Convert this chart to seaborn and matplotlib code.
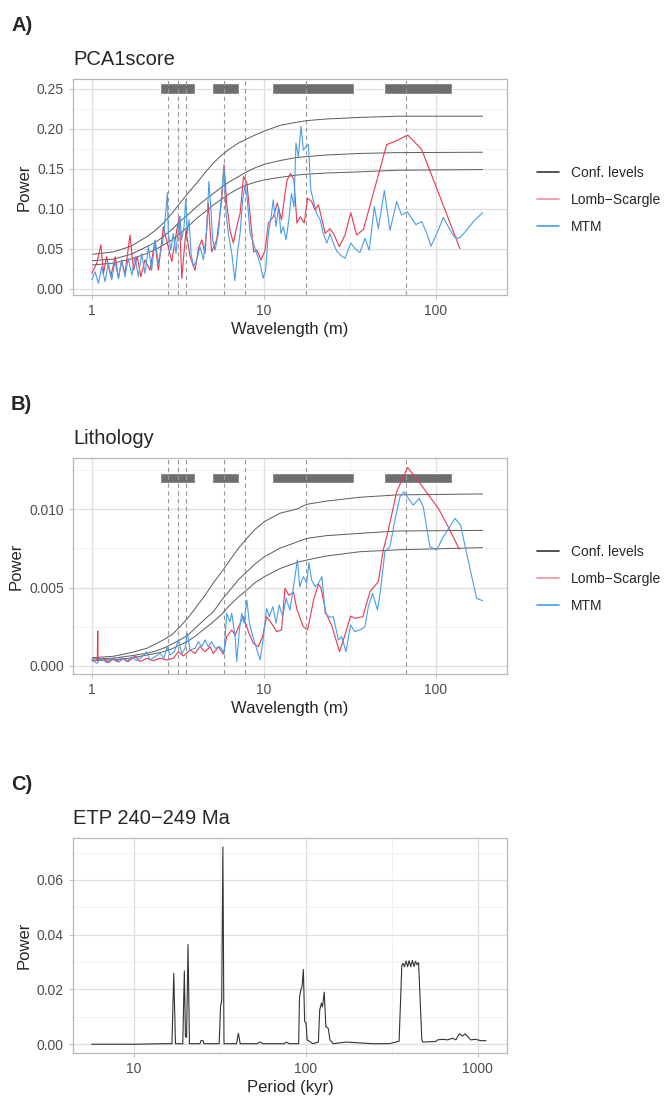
import numpy as np
import pandas as pd
import seaborn as sns
import matplotlib.pyplot as plt
from matplotlib.lines import Line2D
from matplotlib.ticker import NullFormatter

sns.set_theme(style="whitegrid")
plt.rcParams['font.family'] = ['Liberation Sans', 'DejaVu Sans']

# ---- panel A: PCA1score ----
mtm_a_x = [1.0, 1.046, 1.093, 1.143, 1.195, 1.25, 1.307, 1.366, 1.43, 1.494, 1.56, 1.63, 1.71, 1.786,
           1.867, 1.952, 2.04, 2.136, 2.23, 2.335, 2.44, 2.55, 2.63, 2.75, 2.79, 2.88, 2.98, 3.09, 3.19,
           3.26, 3.33, 3.44, 3.52, 3.60, 3.68, 3.78, 3.90, 4.08, 4.26, 4.46, 4.66, 4.8, 4.92, 5.05, 5.21,
           5.45, 5.70, 5.87, 6.04, 6.23, 6.52, 6.8, 7.03, 7.29, 7.54, 7.8, 8.03, 8.33, 8.72, 9.1, 9.5,
           9.94, 10.26, 10.64, 10.98, 11.37, 11.8, 12.2, 12.6, 13.0, 13.5, 14.0, 14.5, 15.0, 15.4, 15.9,
           16.5, 17.0, 17.6, 18.2, 18.8, 19.4, 20.3, 21.3, 22.2, 23.3, 24.3, 25.4, 26.6, 27.9, 29.7, 32.1,
           34.0, 36.3, 38.8, 41.1, 44.0, 46.4, 50.3, 54.3, 59.3, 63.4, 68.4, 72.5, 76.8, 82.9, 88.5, 94.0,
           102, 110.9, 120, 128, 137.3, 150, 166, 187.6]
mtm_a_y = [0.011, 0.021, 0.0067, 0.0275, 0.0088, 0.032, 0.011, 0.034, 0.013, 0.036, 0.015, 0.038, 0.017,
           0.040, 0.015, 0.044, 0.019, 0.0525, 0.023, 0.061, 0.032, 0.0525, 0.069, 0.12, 0.069, 0.048,
           0.069, 0.044, 0.0775, 0.09, 0.061, 0.0775, 0.112, 0.069, 0.086, 0.044, 0.0275, 0.036, 0.0525,
           0.036, 0.073, 0.134, 0.1025, 0.061, 0.048, 0.069, 0.119, 0.1525, 0.094, 0.069, 0.044, 0.01,
           0.044, 0.069, 0.111, 0.13, 0.111, 0.069, 0.057, 0.044, 0.032, 0.013, 0.023, 0.069, 0.086, 0.111,
           0.0775, 0.1025, 0.069, 0.0775, 0.061, 0.086, 0.119, 0.1025, 0.182, 0.165, 0.203, 0.173, 0.1775,
           0.18, 0.123, 0.111, 0.094, 0.086, 0.069, 0.057, 0.069, 0.057, 0.047, 0.042, 0.038, 0.057, 0.05,
           0.045, 0.063, 0.048, 0.1025, 0.075, 0.1225, 0.073, 0.109, 0.092, 0.096, 0.088, 0.08, 0.084, 0.07,
           0.053, 0.07, 0.089, 0.075, 0.065, 0.063, 0.072, 0.084, 0.095]

ls_a_x = [1.0, 1.07, 1.13, 1.17, 1.22, 1.29, 1.37, 1.43, 1.49, 1.56, 1.67, 1.75, 1.84, 1.93, 2.04, 2.18,
          2.33, 2.44, 2.61, 2.75, 2.92, 3.12, 3.23, 3.34, 3.53, 3.73, 3.99, 4.17, 4.36, 4.56, 4.76, 4.98,
          5.33, 5.7, 5.88, 6.09, 6.37, 6.66, 6.97, 7.29, 7.63, 7.98, 8.35, 8.74, 9.14, 9.65, 10.19, 10.65,
          11.38, 12.0, 12.7, 13.3, 13.7, 14.3, 15.0, 15.6, 16.3, 17.2, 18.0, 19.0, 19.9, 20.8, 22.8, 24.3,
          25.6, 27.5, 29.7, 32.1, 34.7, 38.0, 43.4, 51.9, 59.3, 68.8, 82.9, 105.9, 138.4]
ls_a_y = [0.019, 0.032, 0.055, 0.019, 0.04, 0.015, 0.04, 0.013, 0.034, 0.019, 0.067, 0.023, 0.04, 0.015,
          0.036, 0.023, 0.059, 0.023, 0.0775, 0.057, 0.034, 0.073, 0.09, 0.013, 0.073, 0.04, 0.023, 0.05,
          0.061, 0.044, 0.107, 0.046, 0.061, 0.111, 0.155, 0.107, 0.073, 0.057, 0.0775, 0.094, 0.14, 0.132,
          0.09, 0.046, 0.048, 0.036, 0.048, 0.082, 0.09, 0.107, 0.086, 0.119, 0.136, 0.144, 0.136, 0.082,
          0.09, 0.082, 0.113, 0.109, 0.098, 0.105, 0.069, 0.075, 0.068, 0.0525, 0.067, 0.095, 0.067, 0.074,
          0.119, 0.18, 0.185, 0.192, 0.174, 0.115, 0.050]

conf_x = [1.01, 1.34, 1.69, 2.09, 2.35, 2.61, 2.93, 3.26, 3.65, 4.08, 4.56, 5.10, 5.70, 6.37, 7.13, 7.97,
          8.90, 10.1, 12.4, 15.6, 17.8, 23, 36.3, 60, 187.6]
conf_a_hi = [0.043, 0.046, 0.053, 0.065, 0.073, 0.082, 0.094, 0.107, 0.120, 0.132, 0.145, 0.157, 0.167,
             0.175, 0.182, 0.187, 0.192, 0.197, 0.204, 0.208, 0.210, 0.212, 0.214, 0.2155, 0.2155]
conf_a_mid = [0.035, 0.037, 0.043, 0.0525, 0.058, 0.065, 0.074, 0.084, 0.093, 0.1025, 0.111, 0.119, 0.127,
              0.134, 0.140, 0.146, 0.151, 0.1555, 0.160, 0.164, 0.165, 0.167, 0.169, 0.170, 0.1705]
conf_a_lo = [0.0296, 0.032, 0.037, 0.044, 0.049, 0.0546, 0.061, 0.069, 0.078, 0.088, 0.096, 0.1046, 0.112,
             0.119, 0.125, 0.1296, 0.133, 0.136, 0.139, 0.142, 0.143, 0.1445, 0.146, 0.148, 0.1488]

# ---- panel B: Lithology ----
mtm_b_x = [1.0, 1.07, 1.14, 1.22, 1.31, 1.40, 1.49, 1.60, 1.71, 1.83, 1.95, 2.09, 2.18, 2.33, 2.50, 2.63,
           2.75, 2.85, 3.02, 3.19, 3.34, 3.49, 3.60, 3.73, 3.99, 4.17, 4.36, 4.56, 4.76, 4.98, 5.21, 5.58,
           5.88, 6.09, 6.37, 6.52, 6.82, 6.97, 7.22, 7.45, 7.69, 7.98, 8.27, 8.66, 9.14, 9.54, 9.96, 10.4,
           10.8, 11.3, 11.8, 12.3, 12.9, 13.5, 14.2, 14.9, 15.7, 16.2, 17.0, 17.8, 18.3, 19.0, 19.9, 20.8,
           21.8, 22.8, 24.3, 25.4, 27.2, 28.4, 30.1, 32.0, 33.9, 36.3, 38.8, 40.6, 43.0, 45.9, 47.8, 50.7,
           54.2, 58.0, 62.0, 65.4, 69.3, 74.1, 80.3, 84.7, 92.6, 101.3, 110.8, 129.5, 139.6, 151.4, 173, 187.6]
mtm_b_y = [0.00038, 0.00017, 0.00049, 0.00021, 0.00049, 0.00028, 0.00055, 0.00028, 0.00059, 0.00034,
           0.00055, 0.00091, 0.00038, 0.00059, 0.0008, 0.00049, 0.00123, 0.0007, 0.00091, 0.00166, 0.0008,
           0.00113, 0.00208, 0.00102, 0.00113, 0.00155, 0.00123, 0.00166, 0.00123, 0.00155, 0.00113,
           0.00123, 0.0008, 0.00335, 0.00282, 0.00335, 0.00187, 0.00028, 0.00229, 0.00335, 0.00272, 0.0042,
           0.00272, 0.00187, 0.00102, 0.00038, 0.00187, 0.00367, 0.00314, 0.00378, 0.00272, 0.00389,
           0.00314, 0.00431, 0.00357, 0.00505, 0.00675, 0.00505, 0.00569, 0.00527, 0.00658, 0.00548,
           0.00505, 0.00527, 0.00569, 0.00335, 0.0031, 0.00314, 0.00166, 0.00187, 0.00091, 0.00261,
           0.00219, 0.00229, 0.0025, 0.00378, 0.00463, 0.00357, 0.00484, 0.00728, 0.0076, 0.0093, 0.01078,
           0.0111, 0.01068, 0.01025, 0.01068, 0.01015, 0.0076, 0.00739, 0.00824, 0.0094, 0.00898, 0.00718,
           0.00431, 0.00416]

ls_b_x = [1.0, 1.05, 1.078, 1.083, 1.088, 1.17, 1.25, 1.34, 1.43, 1.53, 1.63, 1.79, 1.91, 2.09, 2.28, 2.50,
          2.73, 2.98, 3.19, 3.41, 3.73, 3.99, 4.26, 4.56, 4.88, 5.10, 5.45, 5.83, 6.09, 6.52, 6.82, 7.29,
          7.63, 8.14, 8.70, 9.30, 9.85, 10.4, 11.1, 11.9, 12.7, 13.3, 14.0, 14.9, 15.6, 17.0, 18.0, 19.5,
          20.8, 21.5, 23.0, 25.0, 27.6, 29.7, 32.0, 33.9, 37.7, 41.5, 46.4, 49.6, 53.1, 59.3, 68.7, 81.1,
          103.7, 121, 137.3]
ls_b_y = [0.00038, 0.00034, 0.0004, 0.00223, 0.00034, 0.00049, 0.00021, 0.00049, 0.00025, 0.00049, 0.00028,
          0.00064, 0.00028, 0.00049, 0.00034, 0.00049, 0.00038, 0.00049, 0.00091, 0.00064, 0.00102, 0.0008,
          0.00123, 0.00091, 0.00123, 0.0008, 0.00123, 0.00076, 0.00187, 0.00229, 0.00197, 0.00272, 0.00314,
          0.00219, 0.00144, 0.00123, 0.00187, 0.00314, 0.00272, 0.00219, 0.00229, 0.00495, 0.0045, 0.0047,
          0.0036, 0.0025, 0.0023, 0.0042, 0.0052, 0.0050, 0.0034, 0.0025, 0.00091, 0.00197, 0.00318,
          0.00304, 0.00314, 0.00473, 0.00537, 0.00739, 0.00866, 0.0111, 0.01265, 0.01163, 0.01004, 0.00866,
          0.00743]

conf_b_hi = [0.00053, 0.00062, 0.00085, 0.00113, 0.0014, 0.00166, 0.0020, 0.0025, 0.0031, 0.0038, 0.0045,
             0.0053, 0.0060, 0.00675, 0.0075, 0.00813, 0.0087, 0.0092, 0.00973, 0.0100, 0.0103, 0.0105,
             0.01075, 0.0109, 0.01096]
conf_b_mid = [0.00045, 0.0005, 0.00065, 0.00081, 0.00095, 0.00113, 0.0014, 0.00166, 0.0020, 0.0025, 0.0030,
              0.00346, 0.0042, 0.00484, 0.0055, 0.0060, 0.0065, 0.00696, 0.0075, 0.0079, 0.00813, 0.0083,
              0.00845, 0.0086, 0.00864]
conf_b_lo = [0.00034, 0.0004, 0.0005, 0.0007, 0.0008, 0.00091, 0.0011, 0.00134, 0.0016, 0.00197, 0.0024,
             0.00282, 0.0033, 0.00389, 0.0044, 0.00484, 0.0053, 0.00569, 0.0062, 0.0066, 0.00675, 0.0070,
             0.00728, 0.0074, 0.00754]

# gray bands and dashed reference wavelengths (panels A and B)
band_lo = [2.51, 5.03, 11.2, 50.3]
band_hi = [4.0, 7.16, 33.4, 125]
ref_wavelengths = [2.79, 3.19, 3.52, 5.9, 7.78, 17.6, 67.0]

# ---- panel C: ETP 240-249 Ma ----
etp_x = [5.7, 10, 15.5, 16.7, 17.1, 17.5, 19.3, 19.7, 20.0, 20.3, 20.7, 21.1, 24.3, 24.6, 25.3, 25.6, 31.4,
         32.0, 32.5, 33.0, 33.5, 39.6, 40.6, 41.6, 52.0, 54.1, 56.5, 75.0, 77.3, 80.0, 91.0, 92.0, 93.6,
         95.2, 96.9, 98.6, 100.5, 101.9, 110, 118.5, 120.6, 123.4, 125.2, 128.1, 131.0, 135.2, 138.3, 144.5,
         172, 245, 306, 349, 362, 368, 375, 383, 391, 399, 408, 417, 426, 435, 444, 453, 473, 479, 571, 585,
         624, 667, 714, 746, 780, 815, 845, 910, 973, 1040, 1117]
etp_y = [0.0, 0.0, 0.0002, 0.0002, 0.0259, 0.0002, 0.0002, 0.0268, 0.0028, 0.0025, 0.0364, 0.0002, 0.0002,
         0.0013, 0.0013, 0.0002, 0.0002, 0.0137, 0.016, 0.072, 0.0002, 0.0002, 0.004, 0.0002, 0.0002, 0.0008,
         0.0002, 0.0002, 0.0008, 0.0002, 0.0002, 0.017, 0.0197, 0.021, 0.0273, 0.0083, 0.0077, 0.0016,
         0.0002, 0.0008, 0.0125, 0.015, 0.0137, 0.019, 0.0064, 0.0058, 0.0016, 0.0002, 0.0008, 0.0002,
         0.0002, 0.0011, 0.0289, 0.0295, 0.0283, 0.0304, 0.0283, 0.0305, 0.0283, 0.0306, 0.0284, 0.0303,
         0.029, 0.0298, 0.0016, 0.0008, 0.001, 0.0016, 0.0018, 0.0016, 0.0022, 0.0016, 0.0038, 0.003,
         0.0038, 0.0016, 0.0018, 0.0013, 0.0013]

RED = '#E8384F'
BLUE = '#4A9DE8'
CONF = '#5a5a5a'

W, H = 666, 1097
fig = plt.figure(figsize=(W / 100, H / 100), dpi=100)


def px_rect(left, top, right, bottom):
    return [left / W, 1 - bottom / H, (right - left) / W, (bottom - top) / H]


def style(ax, xlim, ylim, xt, xtl, yt, ytl, xminor, yminor):
    ax.set_xscale('log')
    ax.set_xlim(*xlim)
    ax.set_ylim(*ylim)
    ax.set_xticks(xt)
    ax.set_xticklabels(xtl)
    ax.set_xticks(xminor, minor=True)
    ax.xaxis.set_minor_formatter(NullFormatter())
    ax.set_yticks(yt)
    ax.set_yticklabels(ytl)
    ax.set_yticks(yminor, minor=True)
    ax.grid(which='major', color='#dedede', linewidth=0.9)
    ax.grid(which='minor', color='#ebebeb', linewidth=0.5)
    ax.tick_params(which='major', bottom=True, left=True, length=3, width=0.6, color='#b3b3b3',
                   labelcolor='#4d4d4d', labelsize=10, pad=3.5)
    ax.tick_params(which='minor', length=0)
    for s in ax.spines.values():
        s.set_visible(True)
        s.set_color('#b8b8b8')
        s.set_linewidth(0.9)
    ax.set_axisbelow(True)


def spectrum_panel(ax, mtm_x, mtm_y, ls_x, ls_y, conf, bar_y, bar_h):
    ax.barh([bar_y] * len(band_lo), np.array(band_hi) - np.array(band_lo), left=band_lo,
            height=bar_h, color='#6e6e6e', zorder=2)
    for w in ref_wavelengths:
        ax.axvline(w, color='#999999', linewidth=0.8, linestyle=(0, (4, 3)), zorder=3)
    for c in conf:
        sns.lineplot(x=conf_x, y=c, ax=ax, color=CONF, linewidth=0.7, sort=False, estimator=None, zorder=4)
    sns.lineplot(x=ls_x, y=ls_y, ax=ax, color=RED, linewidth=0.8, sort=False, estimator=None, zorder=5)
    sns.lineplot(x=mtm_x, y=mtm_y, ax=ax, color=BLUE, linewidth=0.8, sort=False, estimator=None, zorder=6)
    ax.set_xlabel('Wavelength (m)', fontsize=12, labelpad=3)
    ax.set_ylabel('Power', fontsize=12, labelpad=4)


handles = [Line2D([], [], color='#333333', lw=1.2),
           Line2D([], [], color=RED, lw=1.2, alpha=0.55),
           Line2D([], [], color=BLUE, lw=1.2)]
labels = ['Conf. levels', 'Lomb\u2212Scargle', 'MTM']

# panel A
axA = fig.add_axes(px_rect(73, 79, 507, 295))
spectrum_panel(axA, mtm_a_x, mtm_a_y, ls_a_x, ls_a_y, [conf_a_hi, conf_a_mid, conf_a_lo], 0.25, 0.013)
style(axA, (0.778, 260), (-0.0079, 0.262), [1, 10, 100], ['1', '10', '100'],
      [0, 0.05, 0.10, 0.15, 0.20, 0.25], ['0.00', '0.05', '0.10', '0.15', '0.20', '0.25'],
      [3.162, 31.62], [0.025, 0.075, 0.125, 0.175, 0.225])
axA.set_title('PCA1score', loc='left', fontsize=14.5, pad=10)
fig.legend(handles, labels, loc='center left', bbox_to_anchor=(537 / W, 1 - 200 / H), frameon=False,
           fontsize=10, handlelength=1.6, handletextpad=0.85, labelspacing=0.95, borderpad=0,
           borderaxespad=0)

# panel B
axB = fig.add_axes(px_rect(73, 458, 507, 674))
spectrum_panel(axB, mtm_b_x, mtm_b_y, ls_b_x, ls_b_y, [conf_b_hi, conf_b_mid, conf_b_lo], 0.012, 0.00063)
style(axB, (0.778, 260), (-0.00051, 0.01325), [1, 10, 100], ['1', '10', '100'],
      [0, 0.005, 0.010], ['0.000', '0.005', '0.010'],
      [3.162, 31.62], [0.0025, 0.0075, 0.0125])
axB.set_title('Lithology', loc='left', fontsize=14.5, pad=10)
fig.legend(handles, labels, loc='center left', bbox_to_anchor=(537 / W, 1 - 579 / H), frameon=False,
           fontsize=10, handlelength=1.6, handletextpad=0.85, labelspacing=0.95, borderpad=0,
           borderaxespad=0)

# panel C
axC = fig.add_axes(px_rect(73, 838, 507, 1053))
sns.lineplot(x=etp_x, y=etp_y, ax=axC, color='#333333', linewidth=0.8, sort=False, estimator=None)
style(axC, (4.44, 1479), (-0.0032, 0.0753), [10, 100, 1000], ['10', '100', '1000'],
      [0, 0.02, 0.04, 0.06], ['0.00', '0.02', '0.04', '0.06'],
      [31.62, 316.2], [0.01, 0.03, 0.05, 0.07])
axC.set_xlabel('Period (kyr)', fontsize=12, labelpad=3)
axC.set_ylabel('Power', fontsize=12, labelpad=4)
axC.set_title('ETP 240\u2212249 Ma', loc='left', fontsize=14.5, pad=10)

for lab, base in [('A)', 31), ('B)', 410), ('C)', 790)]:
    fig.text(11 / W, 1 - base / H, lab, fontsize=14.5, fontweight='bold', va='baseline', ha='left')

fig.savefig('out.png', dpi=100)
